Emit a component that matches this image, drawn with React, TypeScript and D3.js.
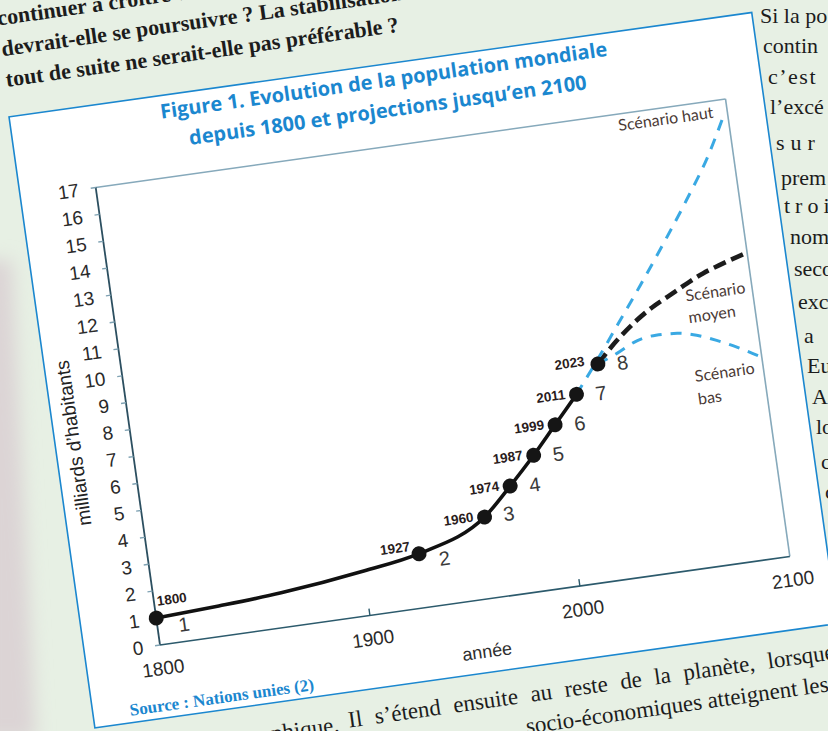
import React from 'react';
import * as d3 from 'd3';

// ---- data ----
const histYears = [1800, 1830, 1860, 1900, 1927, 1960, 1974, 1987, 1999, 2011];
const histValues = [1, 1.12, 1.28, 1.65, 2, 3, 4, 5, 6, 7];
const milestoneYears = [1800, 1927, 1960, 1974, 1987, 1999, 2011, 2023];
const milestoneValues = [1, 2, 3, 4, 5, 6, 7, 8];
const milestoneLabels = ['1', '2', '3', '4', '5', '6', '7', '8'];
const highYears = [2011, 2023, 2035, 2048, 2062, 2075, 2088, 2098];
const highValues = [7.0, 8.15, 9.35, 10.65, 12.1, 13.5, 15.0, 16.4];
const medYears = [2023, 2029, 2035, 2044, 2052, 2061, 2070, 2078, 2086, 2098];
const medValues = [8, 8.45, 8.86, 9.39, 9.78, 10.13, 10.48, 10.76, 10.97, 11.25];
const lowYears = [2023, 2033, 2043, 2052, 2062, 2071, 2080, 2089, 2100];
const lowValues = [8, 8.3, 8.65, 8.75, 8.71, 8.54, 8.25, 7.9, 7.4];
const yTicks = d3.range(0, 18);
const xTickLabels = [1800, 1900, 2000, 2100];
const xInnerTicks = [1900, 2000];

const titleLines = ['Figure 1. Evolution de la population mondiale', 'depuis 1800 et projections jusqu’en 2100'];
const topTextLines = ['continuer à croître ? La croissance', 'devrait-elle se poursuivre ? La stabilisation', 'tout de suite ne serait-elle pas préférable ?'];
const bottomLead = 'démographique.';
const bottomLine1 = 'Il s’étend ensuite au reste de la planète, lorsque';
const bottomLine2 = 'socio-économiques atteignent les';
const rightLines = ['Si la po', 'contin', 'c’est', 'l’excé', 'sur', 'prem', 'troi', 'nom', 'seco', 'exc', 'a', 'Eu', 'A', 'lo', 'c', 'c'];
const rightSpacing = [0, 0, 1.5, 0, 6, 0, 5, 0, 0, 0, 0, 0, 0, 0, 0, 0];

const W = 828;
const H = 731;
const SANS = '"Liberation Sans", Arial, sans-serif';
const SERIF = '"Liberation Serif", "Times New Roman", serif';
const TITLE = '"Open Sans", "Noto Sans", sans-serif';
const BLUE = '#1b87cf';

export default function App() {
  const x = d3.scaleLinear().domain([1800, 2100]).range([0, 636]);
  const y = d3.scaleLinear().domain([0, 17]).range([0, -462]);
  const zip = (a: number[], b: number[]) => a.map((v, i) => [v, b[i]] as [number, number]);
  const line = d3
    .line<[number, number]>()
    .x((d) => x(d[0]))
    .y((d) => y(d[1]))
    .curve(d3.curveMonotoneX);

  const yearOffset = (i: number) => {
    if (i === 0) return { dx: 3, dy: -12, anchor: 'start' };
    if (i === 1) return { dx: -8, dy: -4, anchor: 'end' };
    if (i === 7) return { dx: -13, dy: 0, anchor: 'end' };
    return { dx: -11, dy: 3, anchor: 'end' };
  };
  const numOffset = (i: number) => {
    if (i === 0) return { dx: 21, dy: 17 };
    if (i === 1) return { dx: 19, dy: 15 };
    if (i === 2) return { dx: 19, dy: 7 };
    return { dx: 19, dy: 9 };
  };

  const rightBase = [23, 53, 84, 114, 150, 185, 213, 244, 276, 309, 343, 373, 404, 434, 469, 499];
  const rightX = [760, 763, 768, 770, 776, 781, 784, 790, 794, 798, 804, 807, 812, 816, 821, 825];

  return (
    <svg width={W} height={H} style={{ position: 'absolute', left: 0, top: 0 }} xmlns="http://www.w3.org/2000/svg">
      <defs>
        <filter id="blur" x="-50%" y="-10%" width="200%" height="120%">
          <feGaussianBlur stdDeviation="9" />
        </filter>
      </defs>
      <rect x={0} y={0} width={W} height={H} fill="#e7f0e4" />
      <polygon points="-20,260 12,260 36,740 -20,740" fill="#dcd4d5" filter="url(#blur)" />

      {/* right column text (nearly horizontal) */}
      {rightLines.map((t, i) => (
        <text
          key={'r' + i}
          x={rightX[i]}
          y={rightBase[i]}
          fontFamily={SERIF}
          fontSize={22}
          fill="#1c1c1c"
          letterSpacing={rightSpacing[i]}
        >
          {t}
        </text>
      ))}

      <g transform="translate(160,645) rotate(-8)">
        {/* top page text */}
        {topTextLines.map((t, i) => (
          <text key={'t' + i} x={-74} y={-636 + i * 31} fontFamily={SERIF} fontWeight="bold" fontSize={22} fill="#1c1c1c">
            {t}
          </text>
        ))}
        {/* bottom page text */}
        <text x={166} y={111} textAnchor="end" fontFamily={SERIF} fontSize={23} fill="#1c1c1c">
          {bottomLead}
        </text>
        <text x={176} y={108} fontFamily={SERIF} fontSize={23} fill="#1c1c1c" wordSpacing={7}>
          {bottomLine1}
        </text>
        <text x={351} y={139} fontFamily={SERIF} fontSize={23} fill="#1c1c1c">
          {bottomLine2}
        </text>

        {/* white panel */}
        <rect x={-76} y={-544} width={750} height={617} fill="#ffffff" stroke={BLUE} strokeWidth={1.6} />

        {/* title */}
        {titleLines.map((t, i) => (
          <text
            key={'ti' + i}
            x={300}
            y={-521 + i * 30}
            textAnchor="middle"
            fontFamily={TITLE}
            fontWeight="bold"
            fontSize={20}
            fill={BLUE}
          >
            {t}
          </text>
        ))}

        {/* frame */}
        <line x1={x(1800)} y1={y(17)} x2={x(2100)} y2={y(17)} stroke="#86a9bb" strokeWidth={1.6} />
        <line x1={x(2100)} y1={y(17)} x2={x(2100)} y2={y(0)} stroke="#86a9bb" strokeWidth={1.6} />
        <line x1={x(1800)} y1={y(0)} x2={x(2100)} y2={y(0)} stroke="#2c5a6c" strokeWidth={1.6} />
        <line x1={x(1800)} y1={y(0)} x2={x(1800)} y2={y(17)} stroke="#2c4f60" strokeWidth={1.8} />

        {/* y ticks */}
        {yTicks.map((t) => (
          <g key={'yt' + t}>
            <line x1={-5} x2={0} y1={y(t)} y2={y(t)} stroke="#7fa2b3" strokeWidth={1.4} />
            <text x={-17} y={y(t)} dy="0.36em" textAnchor="end" fontFamily={SANS} fontSize={19} fill="#2a2a2a">
              {t}
            </text>
          </g>
        ))}
        {/* x ticks */}
        {xInnerTicks.map((t) => (
          <line key={'xt' + t} x1={x(t)} x2={x(t)} y1={0} y2={-7} stroke="#2c5a6c" strokeWidth={1.4} />
        ))}
        {xTickLabels.map((t) => (
          <text key={'xl' + t} x={x(t)} y={30} textAnchor="middle" fontFamily={SANS} fontSize={19} fill="#2a2a2a">
            {t}
          </text>
        ))}

        {/* axis titles */}
        <text x={323} y={58} textAnchor="middle" fontFamily={SANS} fontSize={18} fill="#2e2e2e">
          année
        </text>
        <text
          transform="translate(-51,-212) rotate(-90)"
          textAnchor="middle"
          fontFamily={SANS}
          fontSize={19}
          fill="#222"
        >
          milliards d’habitants
        </text>

        {/* lines */}
        <path d={line(zip(histYears, histValues)) || ''} fill="none" stroke="#111" strokeWidth={3.6} strokeLinecap="round" />
        <path d={line(zip(medYears, medValues)) || ''} fill="none" stroke="#1c1c1c" strokeWidth={4.6} strokeDasharray="13 6" />
        <path d={line(zip(highYears, highValues)) || ''} fill="none" stroke="#3aa9e3" strokeWidth={3} strokeDasharray="11 9" />
        <path d={line(zip(lowYears, lowValues)) || ''} fill="none" stroke="#3aa9e3" strokeWidth={3} strokeDasharray="11 9" />

        {/* milestones */}
        {milestoneYears.map((yr, i) => {
          const cx = x(yr);
          const cy = y(milestoneValues[i]);
          const yo = yearOffset(i);
          const no = numOffset(i);
          return (
            <g key={'m' + i}>
              <circle cx={cx} cy={cy} r={7.5} fill="#151515" />
              <text
                x={cx + yo.dx}
                y={cy + yo.dy}
                textAnchor={yo.anchor as any}
                fontFamily={SANS}
                fontWeight="bold"
                fontSize={13.5}
                fill="#2a1c1c"
              >
                {yr}
              </text>
              <text x={cx + no.dx} y={cy + no.dy} fontFamily={SANS} fontSize={20} fill="#3a3a3a">
                {milestoneLabels[i]}
              </text>
            </g>
          );
        })}

        {/* scenario labels */}
        <text x={622} y={-445} textAnchor="end" fontFamily={'Lato, sans-serif'} fontSize={16} fill="#4a3a36">
          Scénario haut
        </text>
        <text x={569} y={-267} fontFamily={'Lato, sans-serif'} fontSize={16} fill="#4a3a36">
          Scénario
        </text>
        <text x={569} y={-245} fontFamily={'Lato, sans-serif'} fontSize={16} fill="#4a3a36">
          moyen
        </text>
        <text x={567} y={-186} fontFamily={'Lato, sans-serif'} fontSize={16} fill="#4a3a36">
          Scénario
        </text>
        <text x={567} y={-163} fontFamily={'Lato, sans-serif'} fontSize={16} fill="#4a3a36">
          bas
        </text>

        {/* source */}
        <text x={-39} y={66} fontFamily={SERIF} fontWeight="bold" fontSize={17} fill={BLUE}>
          Source : Nations unies (2)
        </text>
      </g>
    </svg>
  );
}
